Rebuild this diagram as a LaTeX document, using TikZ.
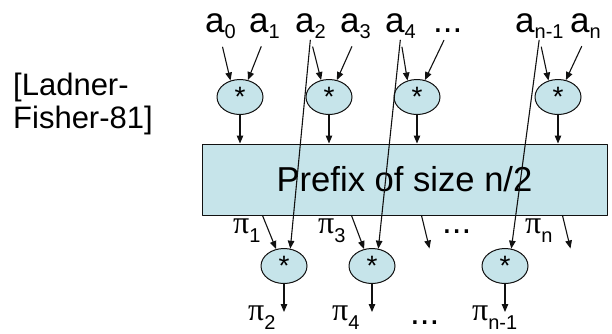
\documentclass[tikz,border=0pt]{standalone}
\usepackage{fontspec}
\setmainfont{Liberation Sans}
\newfontfamily\pifont{Liberation Serif}
\usetikzlibrary{arrows.meta,calc,positioning,shapes.geometric}
\definecolor{lfInk}{HTML}{111111}
\definecolor{lfCyan}{HTML}{C6E4EA}
\tikzset{
 lf/.style={line cap=round,line join=round,text=black},
 opnode/.style={ellipse,draw=lfInk,fill=lfCyan,line width=1pt,inner sep=0pt,
   minimum width=46pt,minimum height=35pt,font=\fontsize{28}{28}\selectfont},
 prefixbox/.style={rectangle,draw=lfInk,fill=lfCyan,line width=1pt,inner sep=0pt,
   minimum width=405pt,minimum height=71pt,font=\fontsize{34.6}{34.6}\selectfont},
 lbl/.style={anchor=base west,inner sep=0pt,font=\fontsize{35}{35}\selectfont},
 pilbl/.style={anchor=base west,inner sep=0pt,font=\fontsize{32}{32}\selectfont},
 cite/.style={anchor=base west,inner sep=0pt,align=left,font=\fontsize{31}{33}\selectfont},
 arr/.style={draw=lfInk,line width=1.1pt,-{Triangle[length=8pt,width=6.5pt]}},
 feed/.style={arr,shorten <=9pt},
 cross/.style={arr,shorten <=2pt}
}
\newcommand{\lfsub}[2][6pt]{\raisebox{-#1}{\fontsize{20}{20}\selectfont #2}}
\newcommand{\lfa}[1]{a\lfsub{#1}}
\newcommand{\lfpi}[1]{{\pifont π}\lfsub[9pt]{#1}}

\begin{document}
\begin{tikzpicture}[lf,x=1pt,y=-1pt]
 \useasboundingbox (0,0) rectangle (612,333);
 \node[cite] (ref) at (13,128) {[Ladner-\\Fisher-81]};
 \node[lbl] (a0) at (205,32) {\lfa{0}};
 \node[lbl] (a1) at (249,32) {\lfa{1}};
 \node[lbl] (a2) at (295,32) {\lfa{2}};
 \node[lbl] (a3) at (340,32) {\lfa{3}};
 \node[lbl] (a4) at (385,32) {\lfa{4}};
 \node[lbl] (adots) at (433,32) {...};
 \node[lbl] (an1) at (515,32) {\lfa{n-1}};
 \node[lbl] (an) at (570,32) {\lfa{n}};
 \node[opnode] (m1) at (240,97) {*};
 \node[opnode] (m2) at (329,97) {*};
 \node[opnode] (m3) at (417,97) {*};
 \node[opnode] (m4) at (558,97) {*};
 \draw[feed] (a0.south) -- (m1.120);
 \draw[feed] (a1.south) -- (m1.65);
 \draw[feed] (a2.south) -- (m2.115);
 \draw[feed] (a3.south) -- (m2.65);
 \draw[feed] (a4.south) -- (m3.120);
 \draw[feed] (adots.south) -- (m3.65);
 \draw[feed] (an1.south) -- (m4.120);
 \draw[feed] (an.south) -- (m4.65);
 \node[prefixbox] (box) at (404.5,179.5) {Prefix of size n/2};
 \foreach \m in {m1,m2,m3,m4}{\draw[arr] (\m) -- (\m |- box.north);}
 \node[opnode] (b1) at (284,266) {*};
 \node[opnode] (b2) at (372,266) {*};
 \node[opnode] (b3) at (505,266) {*};
 \draw[cross] (a2.south) -- (b1.70);
 \draw[cross] (a4.south) -- (b2.70);
 \draw[cross] (an1.south) -- (b3.70);
 \coordinate (o1) at ($(box.south west)+(61,0)$);
 \coordinate (o3) at ($(box.south west)+(150,0)$);
 \coordinate (odots) at ($(box.south west)+(220,0)$);
 \coordinate (on) at ($(box.south west)+(361,0)$);
 \draw[arr] (o1) -- (b1.115);
 \draw[arr] (o3) -- (b2.115);
 \draw[arr] (odots) -- ++(8,33);
 \draw[arr] (on) -- ++(8,33);
 \node[pilbl] (pi1) at (233,233) {\lfpi{1}};
 \node[pilbl] (pi3) at (318,233) {\lfpi{3}};
 \node[lbl] (pdots) at (442,233) {...};
 \node[pilbl] (pin) at (525,233) {\lfpi{n}};
 \foreach \b in {b1,b2,b3}{\draw[arr] (\b.south) -- ++(0,28);}
 \node[pilbl] (pi2) at (248,320) {\lfpi{2}};
 \node[pilbl] (pi4) at (332,320) {\lfpi{4}};
 \node[lbl] (qdots) at (410,324) {...};
 \node[pilbl] (pin1) at (472,320) {\lfpi{n-1}};
\end{tikzpicture}
\end{document}
